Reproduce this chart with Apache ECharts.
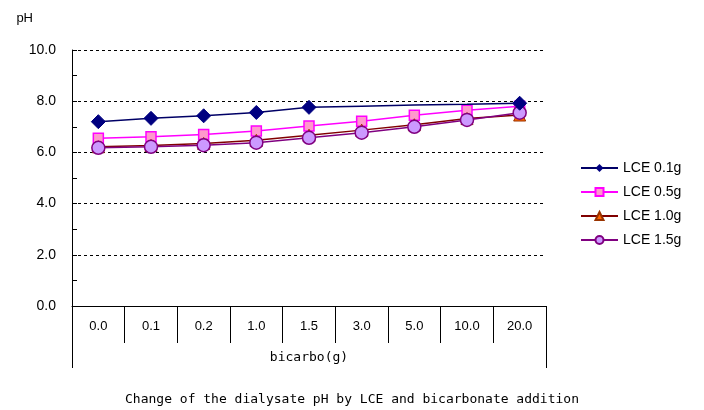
<!DOCTYPE html>
<html><head><meta charset="utf-8">
<script src="https://cdn.jsdelivr.net/npm/echarts@6/dist/echarts.min.js"></script>
<style>html,body{margin:0;padding:0;background:#fff}#c{width:704px;height:410px}</style>
</head><body><div id="c"></div>
<script>
var categories = ['0.0','0.1','0.2','1.0','1.5','3.0','5.0','10.0','20.0'];
var seriesNames = ['LCE 0.1g','LCE 0.5g','LCE 1.0g','LCE 1.5g'];
var lce01 = [7.2, 7.33, 7.43, 7.56, 7.76, 7.8, 7.85, 7.88, 7.92];
var lce05 = [6.55, 6.61, 6.7, 6.84, 7.03, 7.22, 7.45, 7.65, 7.8];
var lce10 = [6.22, 6.27, 6.35, 6.47, 6.67, 6.87, 7.08, 7.32, 7.46];
var lce15 = [6.18, 6.22, 6.28, 6.38, 6.57, 6.77, 7.0, 7.27, 7.55];
var yMin = 0, yMax = 10, yLabelStep = 2, yTickStep = 1;
var xTitle = 'bicarbo(g)';
var yTitle = 'pH';
var chartTitle = 'Change of the dialysate pH by LCE and bicarbonate addition';
// points of LCE 0.1g drawn without a marker in the original
var lce01NoMarker = ['3.0','5.0','10.0'];

var chart = echarts.init(document.getElementById('c'));
var lblFont = 'Liberation Sans, Arial, sans-serif';
var lce01Data = lce01.map(function (v, i) {
  return lce01NoMarker.indexOf(categories[i]) >= 0 ? {value: v, symbol: 'none'} : v;
});
chart.setOption({
  animation: false,
  backgroundColor: '#fff',
  title: {text: chartTitle, left: 'center', top: 388,
    textStyle: {fontFamily: 'DejaVu Sans Mono, monospace', fontSize: 13, fontWeight: 'normal', color: '#000'}},
  legend: {orient: 'vertical', left: 575, top: 156, itemGap: 10, itemWidth: 37, itemHeight: 10,
    textStyle: {fontFamily: lblFont, fontSize: 14, color: '#000'},
    data: seriesNames},
  grid: {left: 72, right: 158, top: 50, bottom: 104},
  xAxis: [{
    type: 'category', data: categories, boundaryGap: true,
    axisLine: {lineStyle: {color: '#000', width: 1}},
    axisTick: {show: true, length: 37, inside: false, lineStyle: {color: '#000'}},
    axisLabel: {margin: 14, fontFamily: lblFont, fontSize: 13, color: '#000'},
    splitLine: {show: false}
  }, {
    type: 'category', data: [xTitle], position: 'bottom', boundaryGap: true,
    axisLine: {show: false},
    axisTick: {show: true, length: 62, lineStyle: {color: '#000'}},
    axisLabel: {margin: 45, fontFamily: 'DejaVu Sans Mono, monospace', fontSize: 13, color: '#000'}
  }],
  yAxis: [{
    type: 'value', min: yMin, max: yMax, interval: yTickStep,
    name: yTitle, nameLocation: 'end', nameGap: 0,
    nameTextStyle: {fontFamily: lblFont, fontSize: 13, color: '#000', align: 'right', padding: [0, 39, 25, 0]},
    axisLine: {show: true, lineStyle: {color: '#000'}},
    axisTick: {show: true, inside: true, length: 5, lineStyle: {color: '#000'}},
    axisLabel: {fontFamily: lblFont, fontSize: 14, color: '#000', margin: 16,
      formatter: function (v) { return (v % yLabelStep === 0) ? v.toFixed(1) : ''; }},
    splitLine: {show: false}
  }, {
    type: 'value', min: yMin, max: yMax, interval: yLabelStep, position: 'left',
    axisLine: {show: false}, axisTick: {show: false}, axisLabel: {show: false},
    splitLine: {show: true, lineStyle: {color: '#000', type: [3, 3], width: 1}}
  }],
  series: [
    {name: seriesNames[0], type: 'line', data: lce01Data, symbol: 'diamond',
      symbolSize: 14, showAllSymbol: true, z: 5,
      lineStyle: {color: '#000066', width: 1.5}, itemStyle: {color: '#000080', borderColor: '#000080'}},
    {name: seriesNames[1], type: 'line', data: lce05, symbol: 'rect', symbolSize: 10,
      lineStyle: {color: '#FF00FF', width: 1.5}, itemStyle: {color: '#FF99CC', borderColor: '#FF00FF', borderWidth: 1.5}},
    {name: seriesNames[2], type: 'line', data: lce10, symbol: 'triangle', symbolSize: 12,
      lineStyle: {color: '#800000', width: 1.5}, itemStyle: {color: '#FF6600', borderColor: '#993300', borderWidth: 1}},
    {name: seriesNames[3], type: 'line', data: lce15, symbol: 'circle', symbolSize: 13,
      lineStyle: {color: '#800080', width: 1.5}, itemStyle: {color: '#CC99FF', borderColor: '#800080', borderWidth: 1.5}}
  ]
});
</script></body></html>
